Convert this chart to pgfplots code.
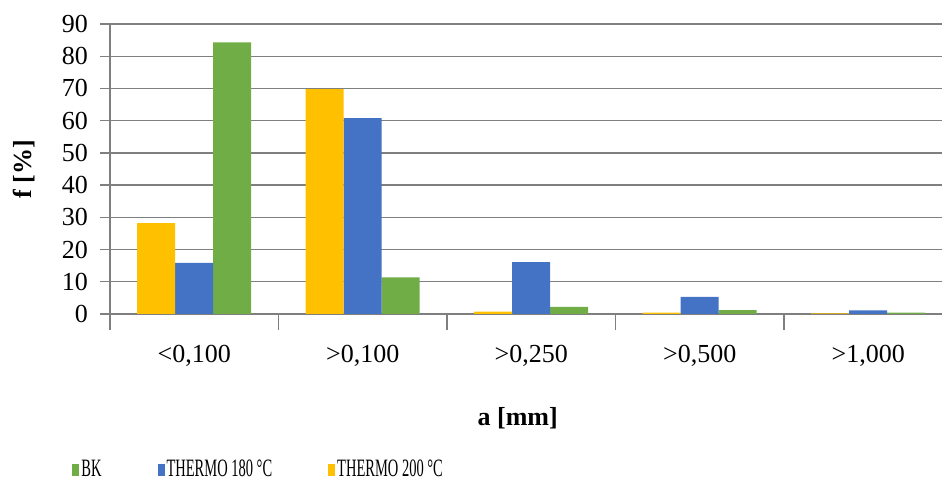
\documentclass[border=0pt]{standalone}
\usepackage{graphicx}
\usepackage{pgfplots}
\pgfplotsset{compat=1.18}
\usepackage{fontspec}
\setmainfont{Liberation Serif}
\definecolor{cY}{HTML}{FFC000}
\definecolor{cB}{HTML}{4472C4}
\definecolor{cG}{HTML}{70AD47}
\definecolor{gridc}{HTML}{7F7F7F}
\begin{document}
\fontsize{13}{15}\selectfont
\begin{tikzpicture}
\begin{axis}[
  scale only axis, width=416pt, height=145pt,
  xmin=-0.5, xmax=4.438, ymin=0, ymax=90,
  ybar, bar width=19pt,
  axis lines*=left,
  axis line style={gridc, line width=0.7pt},
  ytick={0,10,...,90},
  ymajorgrids, grid style={gridc, line width=0.7pt},
  xtick={0,1,2,3,4},
  xticklabels={{<0,100},{>0,100},{>0,250},{>0,500},{>1,000}},
  major x tick style={draw=none},
  minor xtick={-0.5,0.5,1.5,2.5,3.5},
  minor x tick style={gridc, line width=0.7pt},
  minor tick length=8pt,
  major tick length=5pt,
  ytick style={gridc, line width=0.7pt},
  tick align=outside,
  /pgf/number format/assume math mode=true,
  ticklabel style={font=\fontsize{13}{15}\selectfont},
  xticklabel style={yshift=-6pt},
  yticklabel style={xshift=-1.5pt},
  xlabel={\bfseries a [mm]},
  ylabel={\bfseries f [\%]},
  xlabel style={at={(rel axis cs:0.49,-0.359)}, anchor=center, font=\fontsize{13}{15}\selectfont},
  ylabel style={at={(rel axis cs:-0.1034,0.5)}, anchor=center, rotate=0, font=\fontsize{13}{15}\selectfont},
  legend style={at={(rel axis cs:-0.0457,-0.538)}, anchor=west, draw=none, fill=none, inner sep=0pt,
    font=\fontsize{12.5}{15}\selectfont, nodes={inner sep=1pt},
    /tikz/every even column/.append style={column sep=27pt}},
  legend columns=3,
  legend cell align=left,
  legend image code/.code={\path[#1,draw=none] (0pt,-3.2pt) rectangle (3.5pt,3.2pt);},
]
\addplot[fill=cG, draw=none, bar shift=19pt] coordinates {(0,84.3) (1,11.4) (2,2.2) (3,1.2) (4,0.4)};
\addlegendentry{\scalebox{0.58}[1]{BK}}
\addplot[fill=cB, draw=none, bar shift=0pt] coordinates {(0,15.9) (1,60.8) (2,16.1) (3,5.3) (4,1.1)};
\addlegendentry{\scalebox{0.58}[1]{THERMO 180 °C}}
\addplot[fill=cY, draw=none, bar shift=-19pt] coordinates {(0,28.2) (1,69.8) (2,0.7) (3,0.4) (4,0.2)};
\addlegendentry{\scalebox{0.58}[1]{THERMO 200 °C}}
\coordinate (bl) at (rel axis cs:-0.1322,-0.5793);
\coordinate (tr) at (rel axis cs:1,1.0828);
\end{axis}
\pgfresetboundingbox
\path (bl) rectangle (tr);
\end{tikzpicture}
\end{document}
